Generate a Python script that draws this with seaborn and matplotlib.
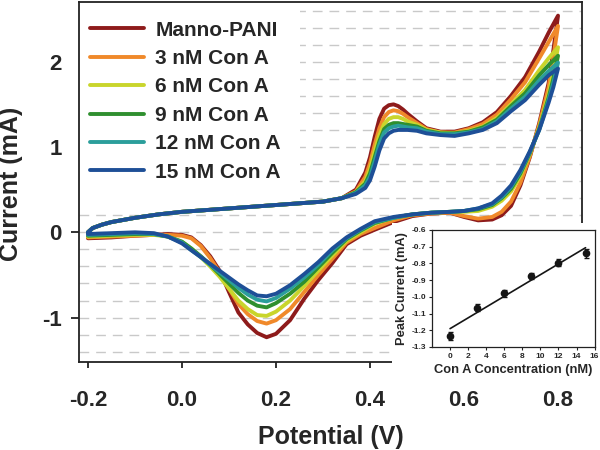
import numpy as np
import pandas as pd
import matplotlib
matplotlib.use("Agg")
import matplotlib.pyplot as plt
from matplotlib.ticker import MultipleLocator, FixedLocator, FormatStrFormatter
from matplotlib.patches import Rectangle
from matplotlib.lines import Line2D
import seaborn as sns

# ---------------- data ----------------
labels = ["Manno-PANI", "3 nM Con A", "6 nM Con A", "9 nM Con A", "12 nM Con A", "15 nM Con A"]
colors = ["#8e1b1b", "#f0892a", "#c9d52c", "#2f8f2f", "#2b9e9b", "#1e4f97"]

# forward (anodic) scan potentials, V
v_fwd = [-0.20, -0.19, -0.17, -0.15, -0.10, -0.05, 0.00, 0.10, 0.20, 0.30, 0.34,
         0.37, 0.39, 0.40, 0.41, 0.42, 0.43, 0.44, 0.45, 0.46, 0.47, 0.48, 0.50,
         0.52, 0.55, 0.58, 0.61, 0.64, 0.67, 0.70, 0.73, 0.76, 0.78, 0.80]
# reverse (cathodic) scan potentials, V
v_rev = [0.80, 0.79, 0.78, 0.76, 0.74, 0.72, 0.70, 0.68, 0.66, 0.63, 0.60, 0.57,
         0.53, 0.49, 0.45, 0.41, 0.38, 0.35, 0.32, 0.29, 0.26, 0.23, 0.20, 0.18,
         0.16, 0.14, 0.12, 0.10, 0.08, 0.06, 0.04, 0.02, 0.00, -0.03, -0.06, -0.10,
         -0.15, -0.20]

fwd_manno = [0.00, 0.05, 0.09, 0.12, 0.17, 0.21, 0.24, 0.28, 0.32, 0.36, 0.40,
             0.50, 0.70, 0.88, 1.12, 1.33, 1.45, 1.49, 1.50, 1.48, 1.44, 1.39, 1.30,
             1.22, 1.18, 1.18, 1.22, 1.29, 1.41, 1.60, 1.82, 2.12, 2.34, 2.54]
fwd_3nm = [0.00, 0.05, 0.09, 0.12, 0.17, 0.21, 0.24, 0.28, 0.32, 0.36, 0.40,
           0.48, 0.65, 0.81, 1.03, 1.22, 1.35, 1.41, 1.43, 1.42, 1.39, 1.35, 1.28,
           1.21, 1.17, 1.17, 1.21, 1.27, 1.38, 1.56, 1.76, 2.04, 2.23, 2.42]
fwd_6nm = [0.00, 0.05, 0.09, 0.12, 0.17, 0.21, 0.24, 0.28, 0.32, 0.36, 0.40,
           0.47, 0.60, 0.74, 0.95, 1.14, 1.27, 1.33, 1.35, 1.35, 1.33, 1.30, 1.26,
           1.20, 1.17, 1.16, 1.19, 1.24, 1.34, 1.50, 1.67, 1.90, 2.04, 2.17]
fwd_9nm = [0.00, 0.05, 0.09, 0.12, 0.17, 0.21, 0.24, 0.28, 0.32, 0.36, 0.40,
           0.47, 0.57, 0.69, 0.88, 1.07, 1.21, 1.26, 1.28, 1.28, 1.27, 1.26, 1.24,
           1.19, 1.16, 1.16, 1.18, 1.23, 1.32, 1.48, 1.63, 1.84, 1.96, 2.07]
fwd_12nm = [0.00, 0.05, 0.09, 0.12, 0.17, 0.21, 0.24, 0.28, 0.32, 0.36, 0.40,
            0.46, 0.55, 0.65, 0.83, 1.03, 1.17, 1.22, 1.24, 1.25, 1.24, 1.23, 1.22,
            1.18, 1.15, 1.15, 1.17, 1.21, 1.30, 1.45, 1.59, 1.78, 1.89, 1.99]
fwd_15nm = [0.00, 0.05, 0.09, 0.12, 0.17, 0.21, 0.24, 0.28, 0.32, 0.36, 0.40,
            0.45, 0.52, 0.61, 0.77, 0.96, 1.10, 1.16, 1.19, 1.20, 1.20, 1.20, 1.19,
            1.16, 1.14, 1.13, 1.16, 1.20, 1.28, 1.42, 1.55, 1.73, 1.84, 1.92]

rev_manno = [2.54, 2.13, 1.75, 1.28, 0.88, 0.55, 0.31, 0.20, 0.15, 0.14, 0.18, 0.23,
             0.22, 0.19, 0.12, 0.03, -0.04, -0.14, -0.36, -0.56, -0.78, -1.03, -1.19, -1.23,
             -1.18, -1.08, -0.94, -0.70, -0.45, -0.28, -0.15, -0.06, -0.03, -0.02, -0.03, -0.04,
             -0.06, -0.07]
rev_3nm = [2.42, 2.05, 1.70, 1.26, 0.89, 0.58, 0.36, 0.24, 0.18, 0.16, 0.19, 0.23,
           0.22, 0.20, 0.14, 0.05, -0.02, -0.12, -0.31, -0.50, -0.70, -0.90, -1.03, -1.07,
           -1.04, -0.96, -0.84, -0.66, -0.47, -0.30, -0.16, -0.07, -0.04, -0.03, -0.03, -0.04,
           -0.05, -0.06]
rev_6nm = [2.17, 1.88, 1.62, 1.23, 0.92, 0.66, 0.48, 0.37, 0.30, 0.25, 0.24, 0.24,
           0.23, 0.21, 0.17, 0.10, 0.00, -0.10, -0.27, -0.45, -0.63, -0.80, -0.93, -0.98,
           -0.97, -0.90, -0.80, -0.66, -0.52, -0.40, -0.29, -0.19, -0.11, -0.05, -0.03, -0.03,
           -0.04, -0.05]
rev_9nm = [2.07, 1.80, 1.58, 1.21, 0.93, 0.69, 0.51, 0.40, 0.32, 0.27, 0.25, 0.24,
           0.23, 0.21, 0.17, 0.11, 0.02, -0.08, -0.24, -0.41, -0.58, -0.72, -0.83, -0.88,
           -0.86, -0.80, -0.71, -0.60, -0.49, -0.38, -0.28, -0.19, -0.11, -0.05, -0.02, -0.02,
           -0.03, -0.04]
rev_12nm = [1.99, 1.75, 1.55, 1.20, 0.94, 0.71, 0.53, 0.41, 0.33, 0.28, 0.25, 0.24,
            0.23, 0.21, 0.17, 0.12, 0.03, -0.07, -0.21, -0.38, -0.53, -0.66, -0.77, -0.81,
            -0.79, -0.73, -0.65, -0.56, -0.47, -0.38, -0.29, -0.21, -0.12, -0.05, -0.02, -0.01,
            -0.02, -0.03]
rev_15nm = [1.92, 1.70, 1.52, 1.20, 0.95, 0.73, 0.55, 0.43, 0.34, 0.28, 0.25, 0.24,
            0.23, 0.21, 0.18, 0.13, 0.04, -0.06, -0.19, -0.35, -0.49, -0.62, -0.72, -0.75,
            -0.74, -0.68, -0.61, -0.53, -0.45, -0.37, -0.29, -0.21, -0.13, -0.05, -0.01, 0.00,
            -0.01, -0.02]

fwd_all = [fwd_manno, fwd_3nm, fwd_6nm, fwd_9nm, fwd_12nm, fwd_15nm]
rev_all = [rev_manno, rev_3nm, rev_6nm, rev_9nm, rev_12nm, rev_15nm]

# inset data
conc = [0, 3, 6, 9, 12, 15]
peak = [-1.235, -1.065, -0.98, -0.875, -0.795, -0.74]
peak_err = [0.025, 0.02, 0.02, 0.02, 0.02, 0.025]

x_ticks = [-0.2, 0.0, 0.2, 0.4, 0.6, 0.8]
y_ticks = [-1, 0, 1, 2]
inset_xticks = [0, 2, 4, 6, 8, 10, 12, 14, 16]
inset_yticks = [-1.3, -1.2, -1.1, -1.0, -0.9, -0.8, -0.7, -0.6]

# ---------------- build table ----------------
rows = []
for lab, f, r in zip(labels, fwd_all, rev_all):
    vv = list(v_fwd) + list(v_rev)
    ii = list(f) + list(r)
    for k, (v, i) in enumerate(zip(vv, ii)):
        rows.append({"label": lab, "order": k, "V": v, "I": i})
df = pd.DataFrame(rows)

# ---------------- style ----------------
sns.set_style("ticks")
plt.rcParams["font.family"] = ["Liberation Sans", "DejaVu Sans"]
plt.rcParams["font.weight"] = "bold"
plt.rcParams["axes.labelweight"] = "bold"
plt.rcParams["axes.unicode_minus"] = False

fig = plt.figure(figsize=(6, 4.5), dpi=100)
ax = fig.add_axes([0.1317, 0.1956, 0.8383, 0.80])
ax.set_zorder(0)

sns.lineplot(data=df, x="V", y="I", hue="label", hue_order=labels, palette=colors,
             sort=False, estimator=None, units="label", lw=2.8, ax=ax, legend=False)

ax.set_xlim(-0.219, 0.851)
ax.set_ylim(-1.52, 2.70)
ax.xaxis.set_major_locator(FixedLocator(x_ticks))
ax.xaxis.set_major_formatter(FormatStrFormatter("%.1f"))
ax.yaxis.set_major_locator(FixedLocator(y_ticks))
ax.yaxis.set_major_formatter(FormatStrFormatter("%d"))
ax.yaxis.set_minor_locator(MultipleLocator(0.2))
ax.grid(which="both", axis="y", color="#c9c9c9", lw=1.0, linestyle=(0, (7, 5)))
ax.set_axisbelow(True)
ax.tick_params(axis="y", which="minor", length=0)
ax.tick_params(axis="y", which="major", direction="out", length=5.5, width=1.3,
               pad=7, labelsize=16, color="#222222")
ax.tick_params(axis="x", which="major", direction="out", length=4, width=1.3,
               pad=16, labelsize=16, color="#222222")
for s in ax.spines.values():
    s.set_color("#222222")
    s.set_linewidth(1.3)

ax.set_xlabel("Potential (V)", fontsize=18, fontweight="bold")
ax.set_ylabel("Current (mA)", fontsize=18, fontweight="bold")
ax.xaxis.set_label_coords(0.5, -0.175)
ax.yaxis.set_label_coords(-0.112, 0.495)

handles = [Line2D([], [], color=c, lw=2.8) for c in colors]
leg = ax.legend(handles, labels, loc="upper left", bbox_to_anchor=(-0.016, 1.0),
                fontsize=15, frameon=True, facecolor="white", edgecolor="none",
                framealpha=1.0, fancybox=False, handlelength=2.6, handletextpad=0.55,
                labelspacing=0.45, borderpad=0.9, borderaxespad=0.0)
leg.set_zorder(2.4)
for t in leg.get_texts():
    t.set_fontweight("bold")

# white area behind the inset
fig.add_artist(Rectangle((0.653, 0.156), 0.347, 0.348, transform=fig.transFigure,
                         facecolor="white", edgecolor="none", zorder=1.5))

# ---------------- inset ----------------
axin = fig.add_axes([0.72, 0.229, 0.271, 0.26])
axin.set_zorder(2)
axin.set_facecolor("white")
sns.regplot(x=conc, y=peak, ci=None, scatter=False, truncate=True, ax=axin,
            line_kws=dict(color="#151515", lw=1.2))
axin.errorbar(conc, peak, yerr=peak_err, fmt="o", color="#151515", ms=4.5,
              capsize=1.8, elinewidth=1.0, capthick=1.0)
axin.set_xlim(-2, 16)
axin.set_ylim(-1.3, -0.6)
axin.xaxis.set_major_locator(FixedLocator(inset_xticks))
axin.yaxis.set_major_locator(FixedLocator(inset_yticks))
axin.yaxis.set_major_formatter(FormatStrFormatter("%.1f"))
axin.tick_params(axis="both", direction="out", length=2, width=0.8, labelsize=6,
                 pad=2, color="#222222")
for s in axin.spines.values():
    s.set_color("#222222")
    s.set_linewidth(0.9)
axin.set_xlabel("Con A Concentration (nM)", fontsize=9.3, fontweight="bold", labelpad=3)
axin.set_ylabel("Peak Current (mA)", fontsize=9.3, fontweight="bold", labelpad=3)

fig.savefig("out.png", dpi=100)
